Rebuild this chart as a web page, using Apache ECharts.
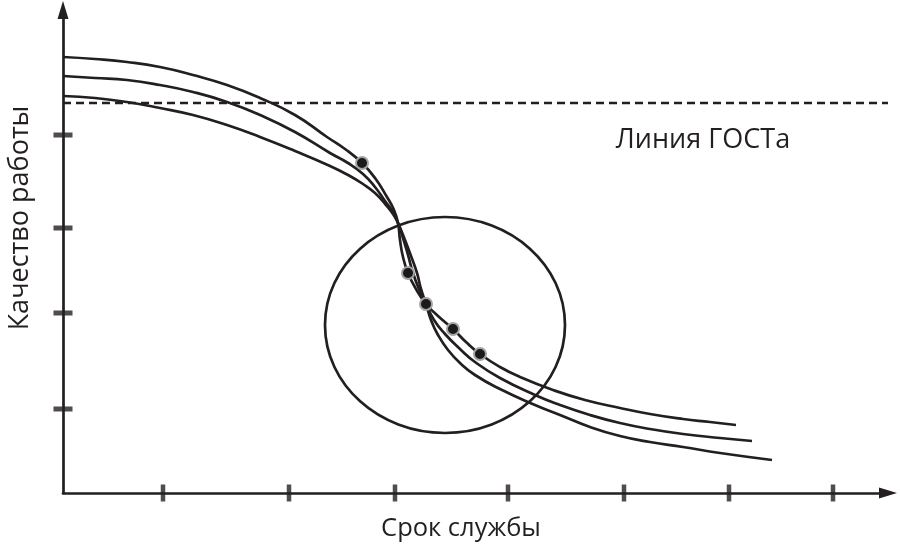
<!DOCTYPE html>
<html>
<head>
<meta charset="utf-8">
<script src="https://cdn.jsdelivr.net/npm/echarts@6/dist/echarts.min.js"></script>
<style>
  html, body { margin: 0; padding: 0; background: #fff; }
  #chart { width: 900px; height: 548px; }
</style>
</head>
<body>
<div id="chart"></div>
<script>
// данные (единицы графика: x - срок службы, y - качество работы)
var curveTop = [[0, 436], [32, 434], [64, 431], [97, 426], [130, 418], [164, 408], [197, 395], [232, 378], [264, 356], [282, 344], [299, 330], [312, 315], [324, 296], [331, 283], [335, 270], [337, 253], [340, 236], [345, 220], [353, 204], [363, 189], [375, 177], [390, 164], [403, 151], [417, 139], [437, 126], [457, 116], [490, 103], [522, 93], [557, 85], [587, 79], [620, 74], [647, 71], [673, 68]];
var curveMid = [[0, 417], [32, 415], [64, 413], [97, 408], [130, 401], [164, 391], [197, 378], [232, 361], [267, 340], [285, 330], [300, 319], [312, 306], [322, 292], [330, 281], [335, 270], [340, 255], [345, 238], [350, 220], [356, 204], [363, 189], [371, 173], [382, 159], [397, 144], [412, 131], [437, 115], [472, 98], [497, 88], [527, 78], [557, 70], [587, 64], [620, 59], [657, 55], [689, 52]];
var curveLow = [[0, 397], [32, 395], [64, 391], [97, 385], [130, 378], [164, 368], [197, 356], [232, 342], [267, 327], [285, 318], [300, 309], [312, 300], [323, 288], [330, 279], [335, 270], [342, 253], [348, 237], [354, 220], [358, 204], [363, 189], [368, 173], [375, 158], [385, 143], [397, 130], [412, 118], [437, 104], [472, 88], [497, 78], [527, 66], [557, 57], [587, 51], [620, 46], [657, 40], [709, 33]];
var dots = [[299, 330], [345, 220], [363, 189], [390, 164], [417, 139]];
var gostLevel = 390; // линия ГОСТа
var gostRange = [0, 825];
var circle = [[382, 168, 120, 108]]; // центр x, центр y, радиус x, радиус y
var xTicks = [100, 226, 332, 445, 561, 666, 770];
var yTicks = [84, 180, 265, 358];
var xMax = 825, yMax = 483;

var ink = '#231f20';
var font = '"Open Sans", "Noto Sans", sans-serif';

var dom = document.getElementById('chart');
var myChart = echarts.init(dom);

function curve(data) {
	return {
		type: 'line',
		data: data,
		smooth: 0.5,
		showSymbol: false,
		silent: true,
		lineStyle: { color: ink, width: 2.7 }
	};
}

var axisLine = {
	show: true,
	symbol: ['none', 'triangle'],
	symbolSize: [11, 18],
	lineStyle: { color: ink, width: 2.7 }
};

function label(text, x, y, size, rotation) {
	return {
		type: 'text', x: x, y: y, rotation: rotation || 0,
		style: {
			text: text, font: size + 'px ' + font, fill: ink,
			align: 'center', verticalAlign: 'middle', textAlign: 'center', textVerticalAlign: 'middle'
		}
	};
}

var option = {
	animation: false,
	backgroundColor: '#fff',
	grid: { left: 63, right: 12, top: 10, bottom: 55 },
	xAxis: {
		type: 'value', min: 0, max: xMax,
		axisLine: axisLine,
		axisTick: { show: false }, axisLabel: { show: false }, splitLine: { show: false }
	},
	yAxis: {
		type: 'value', min: 0, max: yMax,
		axisLine: axisLine,
		axisTick: { show: false }, axisLabel: { show: false }, splitLine: { show: false }
	},
	graphic: [
		label('Срок службы', 461, 529, 25.5),
		label('Качество работы', 20, 218, 27, Math.PI / 2),
		label('Линия ГОСТа', 703, 140, 27)
	],
	series: [
		{
			type: 'line',
			data: [[gostRange[0], gostLevel], [gostRange[1], gostLevel]],
			showSymbol: false,
			silent: true,
			lineStyle: { color: ink, width: 2.7, type: [8, 5] }
		},
		curve(curveTop),
		curve(curveMid),
		curve(curveLow),
		{
			type: 'custom',
			data: circle,
			silent: true,
			renderItem: function (params, api) {
				var c = api.coord([api.value(0), api.value(1)]);
				var s = api.size([api.value(2), api.value(3)]);
				return {
					type: 'ellipse',
					shape: { cx: c[0], cy: c[1], rx: s[0], ry: s[1] },
					style: { fill: 'none', stroke: ink, lineWidth: 2.7 }
				};
			}
		},
		{
			type: 'scatter',
			data: xTicks.map(function (v) { return [v, 0]; }),
			symbol: 'rect',
			symbolSize: [4.5, 17],
			clip: false,
			silent: true,
			itemStyle: { color: ink }
		},
		{
			type: 'scatter',
			data: yTicks.map(function (v) { return [0, v]; }),
			symbol: 'rect',
			symbolSize: [19, 5],
			clip: false,
			silent: true,
			itemStyle: { color: ink }
		},
		{
			type: 'scatter',
			data: dots,
			symbol: 'circle',
			symbolSize: 12,
			z: 5,
			silent: true,
			itemStyle: { color: '#1a1a1a', borderColor: '#a3a3a3', borderWidth: 2, opacity: 1 }
		}
	]
};

if (option && typeof option === 'object') {
	myChart.setOption(option, true);
}
</script>
</body>
</html>
